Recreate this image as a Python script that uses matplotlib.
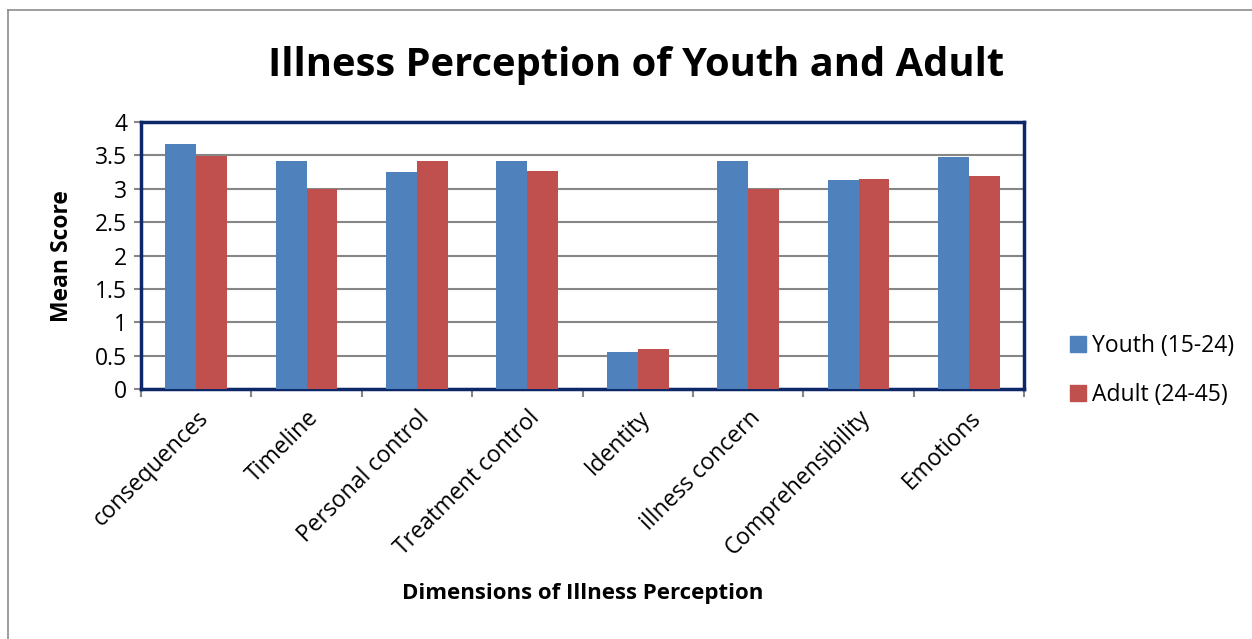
import matplotlib.pyplot as plt
from matplotlib.lines import Line2D
import numpy as np

plt.rcParams['font.family'] = ['Open Sans', 'DejaVu Sans']

# ======================= Data =========================================================================================
dimensions = ['consequences', 'Timeline', 'Personal control', 'Treatment control',
              'Identity', 'illness concern', 'Comprehensibility', 'Emotions']
youth = [3.67, 3.42, 3.25, 3.41, 0.55, 3.42, 3.13, 3.47]
adult = [3.49, 3.00, 3.42, 3.26, 0.60, 2.99, 3.14, 3.19]
series_names = ['Youth (15-24)', 'Adult (24-45)']
colors = ['#4F81BD', '#C0504D']

# ======================= Figure =======================================================================================
fig = plt.figure(figsize=(12.52, 6.39), dpi=100)
ax = fig.add_axes([0.1126, 0.391, 0.7054, 0.418])

x = np.arange(len(dimensions))
w = 0.28
ax.bar(x - w / 2, youth, w, color=colors[0], label=series_names[0], zorder=3)
ax.bar(x + w / 2, adult, w, color=colors[1], label=series_names[1], zorder=3)

ax.set_xlim(-0.5, len(dimensions) - 0.5)
ax.set_ylim(0, 4)
ax.set_yticks(np.arange(0, 4.01, 0.5))
ax.set_yticklabels(['0', '0.5', '1', '1.5', '2', '2.5', '3', '3.5', '4'], fontsize=16.5)
ax.yaxis.grid(True, color='#868686', linewidth=1.5, zorder=0)

# category labels at centres, tick marks on boundaries
ax.set_xticks(x)
ax.set_xticklabels(dimensions, rotation=45, ha='right', rotation_mode='anchor', fontsize=16.5)
ax.tick_params(axis='x', which='major', length=0, pad=12)
ax.set_xticks(np.arange(-0.5, len(dimensions), 1), minor=True)
ax.tick_params(axis='x', which='minor', length=6, width=1.5, color='#868686', direction='out')
ax.tick_params(axis='y', length=5, width=1.5, color='#868686', pad=5)

for s in ax.spines.values():
    s.set_color('#0D2868')
    s.set_linewidth(2.5)

ax.set_ylabel('Mean Score', fontsize=16.5, fontweight='bold', labelpad=15)
ax.set_xlabel('Dimensions of Illness Perception', fontsize=16, fontweight='bold', labelpad=16)
fig.text(0.508, 0.897, 'Illness Perception of Youth and Adult', ha='center', va='center',
         fontsize=28.7, fontweight='bold')

handles = [Line2D([], [], marker='s', linestyle='none', markersize=11, color=c) for c in colors]
fig.legend(handles, series_names, loc='center left', bbox_to_anchor=(0.835, 0.42), frameon=False,
           fontsize=16.5, handletextpad=0.15, labelspacing=1.1, handlelength=1.0)

# outer chart border (top and left only visible)
fig.add_artist(Line2D([0.0064, 0.0064], [0.0, 0.984], color='#8c8c8c', linewidth=1.2))
fig.add_artist(Line2D([0.0064, 1.0], [0.984, 0.984], color='#8c8c8c', linewidth=1.2))

plt.savefig('out.png', dpi=100)
